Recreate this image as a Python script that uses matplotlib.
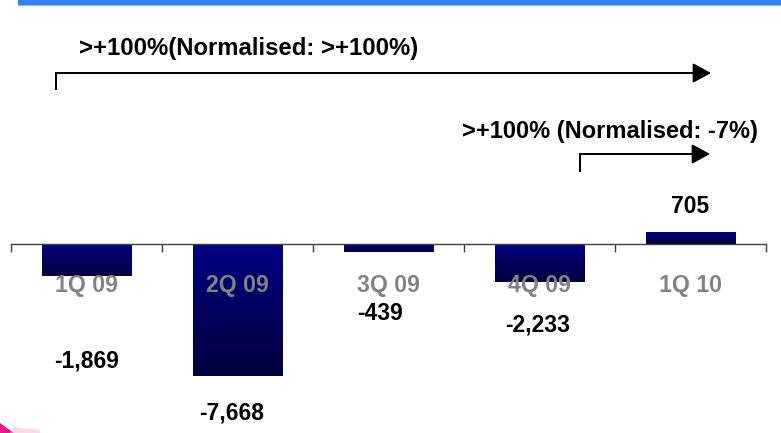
import numpy as np
import matplotlib
matplotlib.use("Agg")
import matplotlib.pyplot as plt
from matplotlib.colors import LinearSegmentedColormap
from matplotlib.patches import Rectangle, Polygon
from matplotlib.lines import Line2D

plt.rcParams['font.family'] = ['Liberation Sans', 'DejaVu Sans']

# Quarterly results
quarters = ["1Q 09", "2Q 09", "3Q 09", "4Q 09", "1Q 10"]
results = [-1869, -7668, -439, -2233, 705]
growth_all = ">+100%(Normalised: >+100%)"
growth_last = ">+100% (Normalised: -7%)"

# label offsets from bar ends, in pixels (dx, dy)
label_offsets = [(0, -85), (-6, -37), (-9, -62), (-2, -43), (0, 25)]

W, H = 781, 433
px = 72 / 100  # points per pixel
fig = plt.figure(figsize=(W / 100, H / 100), dpi=100)
ax = fig.add_axes([0, 0, 1, 1])
ax.patch.set_alpha(0)

slot = 151.0          # pixels per category
ppu = 0.0172          # pixels per unit
x = np.arange(len(quarters))
bar_w = 0.59

bars = ax.bar(x, results, bar_w, color='none', edgecolor='none', zorder=1)
cmap = LinearSegmentedColormap.from_list("navy", ["#000084", "#00003c"])
grad = np.linspace(0, 1, 256).reshape(-1, 1)
for b, v in zip(bars, results):
    x0 = b.get_x()
    lo, hi = min(0, v), max(0, v)
    im = ax.imshow(grad, cmap=cmap, extent=(x0, x0 + b.get_width(), lo, hi),
                   aspect='auto', origin='upper', interpolation='bilinear', zorder=1)
    im.set_clip_path(b)

ax.set_xlim(-0.5 - 11 / slot, -0.5 + (W - 11) / slot)
ax.set_ylim(-(H - 244) / ppu, 244 / ppu)

for s in ['top', 'right', 'left']:
    ax.spines[s].set_visible(False)
ax.spines['bottom'].set_position(('data', 0))
ax.spines['bottom'].set_bounds(-0.5, len(quarters) - 0.5)
ax.spines['bottom'].set_color('#404040')
ax.spines['bottom'].set_linewidth(1.0)
ax.set_yticks([])
ax.set_xticks(np.arange(-0.5, len(quarters), 1.0))
ax.set_xticklabels([])
ax.tick_params(axis='x', which='major', direction='out', length=8 * px,
               width=1, color='#404040')
ax.set_xticks(x, minor=True)
ax.set_xticklabels(quarters, minor=True, fontsize=16.7, fontweight='bold',
                   color='#828282')
ax.tick_params(axis='x', which='minor', length=0, pad=30 * px)

for xi, v, (dx, dy) in zip(x, results, label_offsets):
    ax.annotate(f"{v:,}", xy=(xi, v), xytext=(dx * px, dy * px),
                textcoords='offset points', ha='center', va='center',
                fontsize=16.5, fontweight='bold', color='black', zorder=5)

# growth arrows
def growth_arrow(x_start, x_end, y, y_drop):
    fig.add_artist(Line2D([x_start / W, x_start / W], [1 - y_drop / H, 1 - y / H],
                          transform=fig.transFigure, color='black', lw=2 * px,
                          solid_capstyle='projecting'))
    ax.annotate("", xy=(x_end, H - y), xytext=(x_start, H - y),
                xycoords='figure pixels', textcoords='figure pixels',
                arrowprops=dict(arrowstyle='-|>,head_length=0.55,head_width=0.3',
                                mutation_scale=20, lw=2 * px, color='black',
                                shrinkA=0, shrinkB=0))

growth_arrow(56, 711, 73, 89)
growth_arrow(580, 710, 154, 171)
fig.text(79 / W, 1 - 49 / H, growth_all, ha='left', va='center',
         fontsize=17.2, fontweight='bold')
fig.text(462 / W, 1 - 132 / H, growth_last, ha='left', va='center',
         fontsize=17, fontweight='bold')

# header band
fig.add_artist(Rectangle((18 / W, 1 - 5 / H), 1, 5 / H, transform=fig.transFigure,
                         facecolor='#3480ff', edgecolor='none'))
fig.add_artist(Rectangle((18 / W, 1 - 6 / H), 1, 1 / H, transform=fig.transFigure,
                         facecolor='#8cb8ff', edgecolor='none'))

# corner logo fragment
fig.add_artist(Polygon([(0, 0), (0, 10 / H), (14 / W, 0)], closed=True,
                       transform=fig.transFigure, facecolor='#e6007e',
                       edgecolor='none', alpha=0.9))
fig.add_artist(Polygon([(10 / W, 0), (14 / W, 6 / H), (40 / W, 3 / H), (40 / W, 0)],
                       closed=True, transform=fig.transFigure,
                       facecolor='#f7b3d6', edgecolor='none', alpha=0.5))

fig.savefig("out.png", dpi=100)
